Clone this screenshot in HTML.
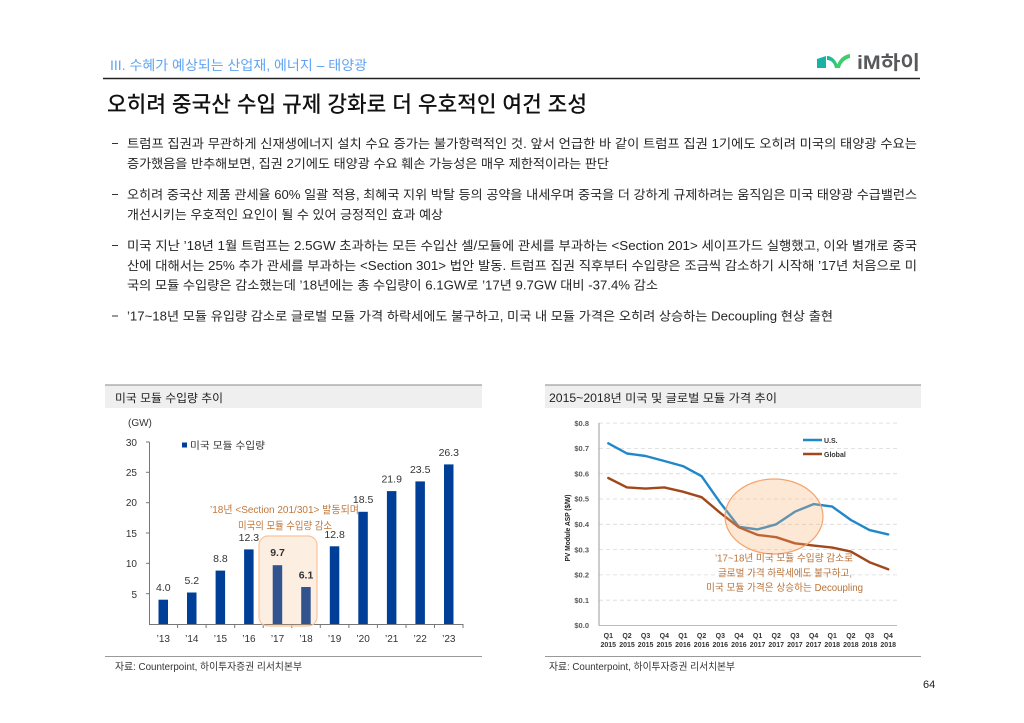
<!DOCTYPE html>
<html><head><meta charset="utf-8">
<style>
html,body{margin:0;padding:0;background:#fff;}
svg{display:block;}
text{font-family:"Liberation Sans","Noto Sans CJK KR",sans-serif;}
.b{font-size:12.5px;fill:#262626;}
</style></head>
<body>
<svg width="1024" height="723" viewBox="0 0 1024 723" xmlns="http://www.w3.org/2000/svg">
<rect width="1024" height="723" fill="#fff"/>
<!-- header -->
<text x="110" y="70" font-size="13.5" fill="#5fa3f2" textLength="257" lengthAdjust="spacingAndGlyphs">III. 수혜가 예상되는 산업재, 에너지 – 태양광</text>
<line x1="103" y1="78.5" x2="920" y2="78.5" stroke="#222" stroke-width="1.5"/>
<!-- logo -->
<defs>
<linearGradient id="lg" x1="0" y1="0" x2="1" y2="0">
<stop offset="0" stop-color="#13b3a6"/><stop offset="1" stop-color="#3fd06a"/>
</linearGradient>
</defs>
<polygon points="817,59 826,56 826,68 817,68" fill="#17b4a4"/>
<path d="M827,56 C832,56 836,60 838,66 L839,68 L835,68 C834,63 831,60 827,60 Z" fill="url(#lg)"/>
<path d="M836,68 C838,60 843,55 850,54 L850,58 C845,59 841,63 840,68 Z" fill="#3ccd6c"/>
<text x="857" y="69" font-size="19" font-weight="bold" fill="#58595b" textLength="63" lengthAdjust="spacingAndGlyphs">iM하이</text>
<!-- title -->
<text x="107" y="112" font-size="22" font-weight="500" fill="#111" textLength="480" lengthAdjust="spacingAndGlyphs">오히려 중국산 수입 규제 강화로 더 우호적인 여건 조성</text>
<!-- bullets -->
<g stroke="#333" stroke-width="1">
<line x1="112" y1="143.5" x2="118" y2="143.5"/>
<line x1="112" y1="194.5" x2="118" y2="194.5"/>
<line x1="112" y1="245.5" x2="118" y2="245.5"/>
<line x1="112" y1="316" x2="118" y2="316"/>
</g>
<text class="b" x="127" y="148" textLength="790" lengthAdjust="spacingAndGlyphs">트럼프 집권과 무관하게 신재생에너지 설치 수요 증가는 불가항력적인 것. 앞서 언급한 바 같이 트럼프 집권 1기에도 오히려 미국의 태양광 수요는</text>
<text class="b" x="127" y="168" textLength="482" lengthAdjust="spacingAndGlyphs">증가했음을 반추해보면, 집권 2기에도 태양광 수요 훼손 가능성은 매우 제한적이라는 판단</text>
<text class="b" x="127" y="199" textLength="790" lengthAdjust="spacingAndGlyphs">오히려 중국산 제품 관세율 60% 일괄 적용, 최혜국 지위 박탈 등의 공약을 내세우며 중국을 더 강하게 규제하려는 움직임은 미국 태양광 수급밸런스</text>
<text class="b" x="127" y="219" textLength="316" lengthAdjust="spacingAndGlyphs">개선시키는 우호적인 요인이 될 수 있어 긍정적인 효과 예상</text>
<text class="b" x="127" y="250" textLength="790" lengthAdjust="spacingAndGlyphs">미국 지난 ’18년 1월 트럼프는 2.5GW 초과하는 모든 수입산 셀/모듈에 관세를 부과하는 &lt;Section 201&gt; 세이프가드 실행했고, 이와 별개로 중국</text>
<text class="b" x="127" y="270" textLength="790" lengthAdjust="spacingAndGlyphs">산에 대해서는 25% 추가 관세를 부과하는 &lt;Section 301&gt; 법안 발동. 트럼프 집권 직후부터 수입량은 조금씩 감소하기 시작해 ’17년 처음으로 미</text>
<text class="b" x="127" y="289.5" textLength="531" lengthAdjust="spacingAndGlyphs">국의 모듈 수입량은 감소했는데 ’18년에는 총 수입량이 6.1GW로 ’17년 9.7GW 대비 -37.4% 감소</text>
<text class="b" x="127" y="320.5" textLength="706" lengthAdjust="spacingAndGlyphs">’17~18년 모듈 유입량 감소로 글로벌 모듈 가격 하락세에도 불구하고, 미국 내 모듈 가격은 오히려 상승하는 Decoupling 현상 출현</text>

<!-- ============ LEFT PANEL ============ -->
<rect x="105" y="385" width="377" height="23" fill="#efefef"/>
<line x1="105" y1="385" x2="482" y2="385" stroke="#888" stroke-width="1"/>
<text x="115" y="402" font-size="11.5" fill="#222" textLength="108" lengthAdjust="spacingAndGlyphs">미국 모듈 수입량 추이</text>
<text x="128" y="426" font-size="10" fill="#333">(GW)</text>
<!-- y axis -->
<g font-size="10" fill="#333" text-anchor="end">
<text x="137" y="446">30</text>
<text x="137" y="476">25</text>
<text x="137" y="506">20</text>
<text x="137" y="537">15</text>
<text x="137" y="567">10</text>
<text x="137" y="598">5</text>
</g>
<g stroke="#777" stroke-width="1">
<line x1="149.5" y1="442" x2="149.5" y2="624"/>
<line x1="146" y1="442" x2="149.5" y2="442"/>
<line x1="146" y1="472.3" x2="149.5" y2="472.3"/>
<line x1="146" y1="502.7" x2="149.5" y2="502.7"/>
<line x1="146" y1="533" x2="149.5" y2="533"/>
<line x1="146" y1="563.3" x2="149.5" y2="563.3"/>
<line x1="146" y1="593.7" x2="149.5" y2="593.7"/>
<line x1="149" y1="624.5" x2="463" y2="624.5"/>
<line x1="177.6" y1="624" x2="177.6" y2="628"/>
<line x1="206.1" y1="624" x2="206.1" y2="628"/>
<line x1="234.7" y1="624" x2="234.7" y2="628"/>
<line x1="263.2" y1="624" x2="263.2" y2="628"/>
<line x1="291.8" y1="624" x2="291.8" y2="628"/>
<line x1="320.3" y1="624" x2="320.3" y2="628"/>
<line x1="348.9" y1="624" x2="348.9" y2="628"/>
<line x1="377.4" y1="624" x2="377.4" y2="628"/>
<line x1="406" y1="624" x2="406" y2="628"/>
<line x1="434.5" y1="624" x2="434.5" y2="628"/>
<line x1="463" y1="624" x2="463" y2="628"/>
</g>
<!-- bars -->
<g fill="#003f98">
<rect x="158.5" y="599.7" width="9.5" height="24.3"/>
<rect x="187" y="592.5" width="9.5" height="31.5"/>
<rect x="215.6" y="570.6" width="9.5" height="53.4"/>
<rect x="244.1" y="549.4" width="9.5" height="74.6"/>
<rect x="272.7" y="565.2" width="9.5" height="58.8"/>
<rect x="301.2" y="587" width="9.5" height="37"/>
<rect x="329.8" y="546.3" width="9.5" height="77.7"/>
<rect x="358.3" y="511.8" width="9.5" height="112.2"/>
<rect x="386.9" y="491.1" width="9.5" height="132.9"/>
<rect x="415.4" y="481.4" width="9.5" height="142.6"/>
<rect x="444" y="464.4" width="9.5" height="159.6"/>
</g>
<rect x="259" y="536" width="58" height="90" rx="9" fill="rgba(245,170,110,0.2)" stroke="#f8c49a" stroke-width="1.2"/>
<!-- values -->
<g font-size="10.5" fill="#333" text-anchor="middle">
<text x="163.3" y="591">4.0</text>
<text x="191.8" y="584">5.2</text>
<text x="220.4" y="562">8.8</text>
<text x="248.9" y="541">12.3</text>
<text x="277.5" y="556" font-weight="bold">9.7</text>
<text x="306" y="578.5" font-weight="bold">6.1</text>
<text x="334.6" y="538">12.8</text>
<text x="363.1" y="503">18.5</text>
<text x="391.7" y="482.5">21.9</text>
<text x="420.2" y="473">23.5</text>
<text x="448.8" y="456">26.3</text>
</g>
<g font-size="10" fill="#333" text-anchor="middle">
<text x="163.3" y="642">’13</text>
<text x="191.8" y="642">’14</text>
<text x="220.4" y="642">’15</text>
<text x="248.9" y="642">’16</text>
<text x="277.5" y="642">’17</text>
<text x="306" y="642">’18</text>
<text x="334.6" y="642">’19</text>
<text x="363.1" y="642">’20</text>
<text x="391.7" y="642">’21</text>
<text x="420.2" y="642">’22</text>
<text x="448.8" y="642">’23</text>
</g>
<!-- legend -->
<rect x="182" y="442.5" width="5" height="5" fill="#003f98"/>
<text x="190" y="449" font-size="10" fill="#333" textLength="75" lengthAdjust="spacingAndGlyphs">미국 모듈 수입량</text>
<!-- annotation -->
<text x="210" y="513" font-size="10.5" fill="#c0773b" textLength="149" lengthAdjust="spacingAndGlyphs">’18년 &lt;Section 201/301&gt; 발동되며</text>
<text x="238" y="529" font-size="10.5" fill="#c0773b" textLength="94" lengthAdjust="spacingAndGlyphs">미국의 모듈 수입량 감소</text>
<!-- footer -->
<line x1="105" y1="656.5" x2="482" y2="656.5" stroke="#999" stroke-width="1"/>
<text x="115" y="670" font-size="10" fill="#333" textLength="187" lengthAdjust="spacingAndGlyphs">자료: Counterpoint, 하이투자증권 리서치본부</text>

<!-- ============ RIGHT PANEL ============ -->
<rect x="545" y="385" width="376" height="23" fill="#efefef"/>
<line x1="545" y1="385" x2="921" y2="385" stroke="#888" stroke-width="1"/>
<text x="549" y="402" font-size="11.5" fill="#222" textLength="228" lengthAdjust="spacingAndGlyphs">2015~2018년 미국 및 글로벌 모듈 가격 추이</text>
<!-- gridlines -->
<g stroke="#d9d9d9" stroke-width="0.8" stroke-dasharray="4,3">
<line x1="599" y1="423.1" x2="897" y2="423.1"/>
<line x1="599" y1="448.4" x2="897" y2="448.4"/>
<line x1="599" y1="473.7" x2="897" y2="473.7"/>
<line x1="599" y1="499" x2="897" y2="499"/>
<line x1="599" y1="524.3" x2="897" y2="524.3"/>
<line x1="599" y1="549.6" x2="897" y2="549.6"/>
<line x1="599" y1="574.9" x2="897" y2="574.9"/>
<line x1="599" y1="600.2" x2="897" y2="600.2"/>
</g>
<line x1="599" y1="625.5" x2="897" y2="625.5" stroke="#bbb" stroke-width="1"/>
<line x1="599" y1="423" x2="599" y2="625.5" stroke="#999" stroke-width="1"/>
<g font-size="7.5" font-weight="bold" fill="#595959" text-anchor="end">
<text x="589" y="425.8">$0.8</text>
<text x="589" y="451.1">$0.7</text>
<text x="589" y="476.4">$0.6</text>
<text x="589" y="501.7">$0.5</text>
<text x="589" y="527">$0.4</text>
<text x="589" y="552.3">$0.3</text>
<text x="589" y="577.6">$0.2</text>
<text x="589" y="602.9">$0.1</text>
<text x="589" y="628.2">$0.0</text>
</g>
<text transform="translate(570,528) rotate(-90)" font-size="7.5" font-weight="bold" fill="#222" text-anchor="middle" textLength="67" lengthAdjust="spacingAndGlyphs">PV Module ASP ($/W)</text>
<g font-size="7" font-weight="bold" fill="#333" text-anchor="middle">
<text x="608.3" y="638">Q1</text><text x="608.3" y="647">2015</text>
<text x="627" y="638">Q2</text><text x="627" y="647">2015</text>
<text x="645.6" y="638">Q3</text><text x="645.6" y="647">2015</text>
<text x="664.3" y="638">Q4</text><text x="664.3" y="647">2015</text>
<text x="682.9" y="638">Q1</text><text x="682.9" y="647">2016</text>
<text x="701.6" y="638">Q2</text><text x="701.6" y="647">2016</text>
<text x="720.3" y="638">Q3</text><text x="720.3" y="647">2016</text>
<text x="738.9" y="638">Q4</text><text x="738.9" y="647">2016</text>
<text x="757.6" y="638">Q1</text><text x="757.6" y="647">2017</text>
<text x="776.2" y="638">Q2</text><text x="776.2" y="647">2017</text>
<text x="794.9" y="638">Q3</text><text x="794.9" y="647">2017</text>
<text x="813.6" y="638">Q4</text><text x="813.6" y="647">2017</text>
<text x="832.2" y="638">Q1</text><text x="832.2" y="647">2018</text>
<text x="850.9" y="638">Q2</text><text x="850.9" y="647">2018</text>
<text x="869.5" y="638">Q3</text><text x="869.5" y="647">2018</text>
<text x="888.2" y="638">Q4</text><text x="888.2" y="647">2018</text>
</g>
<polyline fill="none" stroke="#2187c9" stroke-width="2.4" stroke-linejoin="round" stroke-linecap="round"
points="608.3,443.3 627,453.5 645.6,456 664.3,461 682.9,466.1 701.6,476.2 720.3,502.8 738.9,526.8 757.6,529.4 776.2,524.3 794.9,511.7 813.6,504.1 832.2,506.6 850.9,520 869.5,530.1 888.2,534.4"/>
<polyline fill="none" stroke="#a2471a" stroke-width="2.4" stroke-linejoin="round" stroke-linecap="round"
points="608.3,478 627,487.4 645.6,488.6 664.3,487.4 682.9,491.7 701.6,497.2 720.3,512.9 738.9,527.3 757.6,534.9 776.2,537.2 794.9,543.3 813.6,545.6 832.2,547.6 850.9,551.6 869.5,562.2 888.2,569.3"/>
<ellipse cx="774" cy="516.5" rx="49" ry="37.5" fill="rgba(248,175,115,0.3)" stroke="#f4a46c" stroke-width="1.2"/>
<!-- legend -->
<line x1="803" y1="440" x2="822" y2="440" stroke="#2187c9" stroke-width="2.4"/>
<text x="824" y="443" font-size="7" font-weight="bold" fill="#333">U.S.</text>
<line x1="803" y1="454" x2="822" y2="454" stroke="#a2471a" stroke-width="2.4"/>
<text x="824" y="457" font-size="7" font-weight="bold" fill="#333">Global</text>
<!-- annotation -->
<text x="715" y="561.5" font-size="10" fill="#b8733a" textLength="138" lengthAdjust="spacingAndGlyphs">’17~18년 미국 모듈 수입량 감소로</text>
<text x="718" y="576.5" font-size="10" fill="#b8733a" textLength="134" lengthAdjust="spacingAndGlyphs">글로벌 가격 하락세에도 불구하고,</text>
<text x="706" y="591" font-size="10" fill="#b8733a" textLength="157" lengthAdjust="spacingAndGlyphs">미국 모듈 가격은 상승하는 Decoupling</text>
<!-- footer -->
<line x1="545" y1="656.5" x2="921" y2="656.5" stroke="#999" stroke-width="1"/>
<text x="549" y="670" font-size="10" fill="#333" textLength="186" lengthAdjust="spacingAndGlyphs">자료: Counterpoint, 하이투자증권 리서치본부</text>

<!-- page number -->
<text x="923" y="688" font-size="11" fill="#222">64</text>
</svg>
</body></html>
